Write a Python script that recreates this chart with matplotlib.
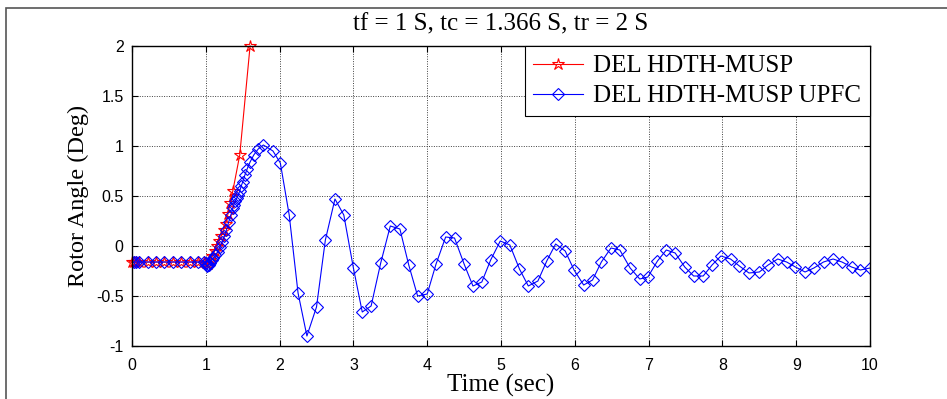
import numpy as np
import matplotlib
matplotlib.use("Agg")
import matplotlib.pyplot as plt
from matplotlib.patches import Rectangle

# data
t_upfc = [0.0, 0.03, 0.06, 0.1, 0.22, 0.33, 0.44, 0.56, 0.67, 0.78, 0.89, 0.98,
          1.0, 1.01, 1.02, 1.04, 1.06, 1.08, 1.1, 1.13, 1.16, 1.19, 1.22, 1.25,
          1.28, 1.31, 1.34, 1.366, 1.38, 1.40, 1.42, 1.44, 1.46, 1.48, 1.50,
          1.53, 1.56, 1.60, 1.65, 1.71, 1.78, 1.91, 2.01, 2.13, 2.25, 2.37,
          2.5, 2.62, 2.75, 2.87, 3.0, 3.12, 3.24, 3.37, 3.5, 3.63, 3.75, 3.87,
          4.0, 4.12, 4.25, 4.37, 4.5, 4.62, 4.74, 4.86, 4.99, 5.12, 5.25, 5.37,
          5.5, 5.62, 5.74, 5.87, 5.99, 6.12, 6.24, 6.36, 6.49, 6.61, 6.75, 6.88,
          6.99, 7.12, 7.24, 7.36, 7.49, 7.61, 7.74, 7.86, 7.98, 8.11, 8.23, 8.36,
          8.5, 8.62, 8.75, 8.87, 8.99, 9.12, 9.24, 9.37, 9.5, 9.62, 9.75, 9.87, 10.0]
del_upfc = [-0.16, -0.16, -0.16, -0.16, -0.16, -0.16, -0.16, -0.16, -0.16, -0.16, -0.16, -0.16,
            -0.17, -0.19, -0.2, -0.19, -0.17, -0.14, -0.12, -0.09, -0.06, -0.01, 0.04, 0.1,
            0.16, 0.24, 0.31, 0.38, 0.41, 0.45, 0.48, 0.51, 0.55, 0.6, 0.64,
            0.71, 0.77, 0.84, 0.91, 0.97, 1.01, 0.95, 0.83, 0.31, -0.47, -0.9,
            -0.61, 0.06, 0.47, 0.31, -0.22, -0.66, -0.6, -0.17, 0.2, 0.17, -0.19, -0.5,
            -0.48, -0.18, 0.09, 0.08, -0.18, -0.4, -0.36, -0.14, 0.05, 0.01, -0.23, -0.4,
            -0.35, -0.15, 0.02, -0.05, -0.24, -0.39, -0.34, -0.16, -0.02, -0.04, -0.22, -0.33,
            -0.31, -0.15, -0.04, -0.07, -0.21, -0.3, -0.3, -0.19, -0.1, -0.13, -0.2, -0.27,
            -0.26, -0.19, -0.13, -0.16, -0.21, -0.26, -0.22, -0.16, -0.13, -0.16, -0.21, -0.24, -0.22]

t_del = [0.0, 0.03, 0.06, 0.1, 0.22, 0.33, 0.44, 0.56, 0.67, 0.78, 0.89, 0.98,
         1.0, 1.03, 1.06, 1.09, 1.12, 1.15, 1.18, 1.21, 1.24, 1.27, 1.30, 1.33,
         1.366, 1.46, 1.6]
del_nofacts = [-0.16, -0.16, -0.16, -0.16, -0.16, -0.16, -0.16, -0.16, -0.16, -0.16, -0.16, -0.16,
               -0.17, -0.18, -0.14, -0.1, -0.05, 0.0, 0.05, 0.1, 0.16, 0.22, 0.32, 0.43,
               0.55, 0.91, 2.0]

serif = ['Liberation Serif', 'DejaVu Serif']
sans = ['Liberation Sans', 'DejaVu Sans']

fig = plt.figure(figsize=(9.47, 3.99), dpi=100)
ax = fig.add_axes([132/947, 53/399, 738/947, 300/399])

ax.plot(t_del, del_nofacts, '-', color='r', lw=0.8, marker='*', ms=9,
        mfc='none', mec='r', mew=0.8, label='DEL HDTH-MUSP', clip_on=False)
ax.plot(t_upfc, del_upfc, '-', color='b', lw=0.8, marker='D', ms=6.5,
        mfc='none', mec='b', mew=0.8, label='DEL HDTH-MUSP UPFC')

ax.set_xlim(0, 10)
ax.set_ylim(-1, 2)
ax.set_xticks(np.arange(0, 11, 1))
ax.set_yticks([-1, -0.5, 0, 0.5, 1, 1.5, 2])
ax.set_yticklabels(['-1', '-0.5', '0', '0.5', '1', '1.5', '2'])
ax.tick_params(direction='in', top=True, right=True, length=4, width=0.8,
               labelsize=11.5)
ax.tick_params(axis='x', pad=9)
ax.tick_params(axis='y', pad=6)
for lab in ax.get_xticklabels() + ax.get_yticklabels():
    lab.set_family(sans)
ax.grid(True, linestyle=(0, (1, 1.5)), color='#404040', lw=0.7)
for s in ax.spines.values():
    s.set_linewidth(1.0)

ax.set_title('tf = 1 S, tc = 1.366 S, tr = 2 S', family=serif, fontsize=18, pad=11)
ax.set_xlabel('Time (sec)', family=serif, fontsize=18, labelpad=0)
ax.set_ylabel('Rotor Angle (Deg)', family=serif, fontsize=17.5, labelpad=5)

leg = ax.legend(loc='upper right', fancybox=False,
                prop={'family': serif, 'size': 18}, handlelength=2.0,
                handletextpad=0.4, labelspacing=0.3, borderpad=0.35,
                borderaxespad=0, framealpha=1)
leg.get_frame().set_edgecolor('black')
leg.get_frame().set_linewidth(0.8)

# outer frame (top and left edges visible)
fig.patches.append(Rectangle((6/947, -0.2), 1.2, (391/399) + 0.2,
                             transform=fig.transFigure, fill=False,
                             edgecolor='#555555', lw=1.2))

fig.savefig('out.png', dpi=100)
